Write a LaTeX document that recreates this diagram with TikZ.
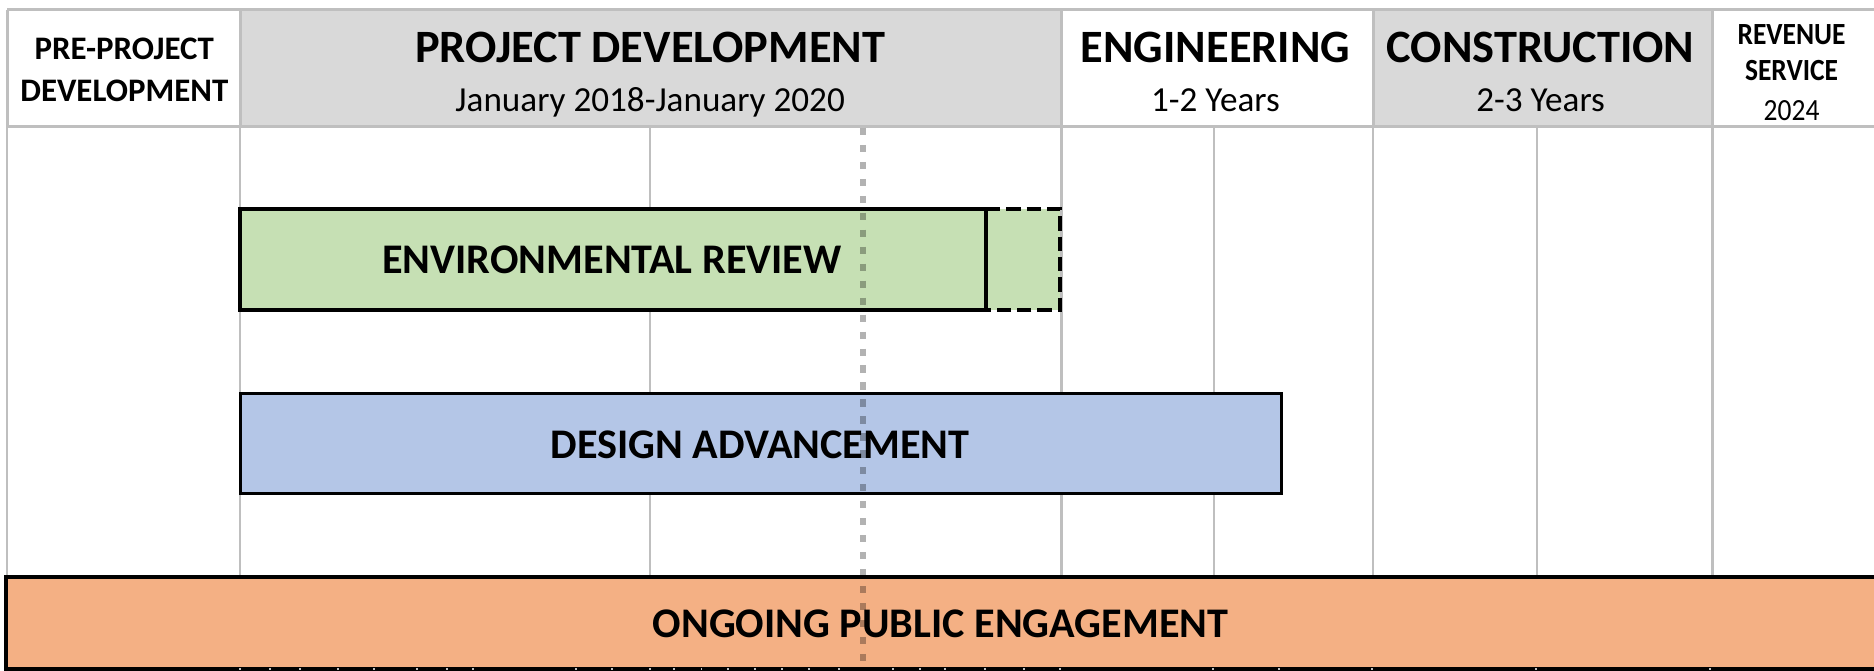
\documentclass[tikz,border=0pt]{standalone}
\usepackage{fontspec}
\setmainfont{Carlito}
\definecolor{hdrgray}{HTML}{D9D9D9}
\definecolor{gridgray}{HTML}{BFBFBF}
\definecolor{envgreen}{HTML}{C6E0B4}
\definecolor{desblue}{HTML}{B4C6E7}
\definecolor{puborange}{HTML}{F4B084}
\newcommand{\fsz}[1]{\fontsize{#1}{#1}\selectfont}
\begin{document}
\begin{tikzpicture}[x=1pt,y=-1pt,
  gridline/.style={draw=gridgray,line width=2pt},
  hdrline/.style={draw=gridgray,line width=2.5pt},
  bigtxt/.style={anchor=base,inner sep=0pt,font=\bfseries\fsz{38.8}},
  subtxt/.style={anchor=base,inner sep=0pt,font=\fsz{29.4}},
  smalltxt/.style={anchor=base,inner sep=0pt,font=\bfseries\fsz{27.5}},
  revtxt/.style={anchor=base,inner sep=0pt,yscale=1.12,font=\bfseries\fsz{23}},
  bartxt/.style={anchor=base,inner sep=0pt,font=\bfseries\fsz{35.3}},
  barbox/.style={draw=black,line width=3.3pt},
  todayline/.style={draw=black,draw opacity=0.3,line width=5pt,dash pattern=on 6pt off 8.2pt}
]
\useasboundingbox (0,0) rectangle (1568,561);
\fill[white] (0,0) rectangle (1568,561);
% header cells
\fill[hdrgray] (201,8) rectangle (888,106);
\fill[hdrgray] (1149,8) rectangle (1433,106);
% lower grid
\foreach \gx in {6,201,544,888,1016,1149,1286,1433}
  \draw[gridline] (\gx,106) -- (\gx,482);
% header borders
\draw[hdrline] (6,8) -- (1568,8);
\draw[hdrline] (6,106) -- (1568,106);
\foreach \gx in {6,201,888,1149,1433}
  \draw[hdrline] (\gx,8) -- (\gx,106);
% header texts
\node[smalltxt] (pre1) at (104,50) {PRE-PROJECT};
\node[smalltxt] (pre2) at (104,85) {DEVELOPMENT};
\node[bigtxt] (pd) at (544,52) {PROJECT DEVELOPMENT};
\node[subtxt] (pdd) at (544,93) {January 2018-January 2020};
\node[bigtxt] (eng) at (1017,52) {ENGINEERING};
\node[subtxt] (engd) at (1017,93) {1-2 Years};
\node[bigtxt] (con) at (1289,52) {CONSTRUCTION};
\node[subtxt] (cond) at (1289,93) {2-3 Years};
\node[revtxt] (rev1) at (1499,37) {REVENUE};
\node[revtxt] (rev2) at (1499,67) {SERVICE};
\node[revtxt,font=\fsz{23}] (rev3) at (1499,101) {2024};
% environmental review
\fill[envgreen] (201,175) rectangle (887,259);
\draw[barbox,dash pattern=on 12pt off 5pt] (825,175) -- (887,175) -- (887,259) -- (825,259);
\draw[barbox] (201,175) rectangle (825,259);
\node[bartxt] (env) at (512,229) {ENVIRONMENTAL REVIEW};
% design advancement
\draw[barbox,fill=desblue,line width=2.4pt] (201,329) rectangle (1072,413);
\node[bartxt] (des) at (636,384) {DESIGN ADVANCEMENT};
% public engagement
\draw[barbox,fill=puborange] (5,483) rectangle (1580,560);
\node[bartxt] (pub) at (787,533) {ONGOING PUBLIC ENGAGEMENT};
% bottom ticks
\foreach \tx in {201,226,251,283,313,349,374,396,482,512,544,564,587,609,632,654,677,702,747,770,791,824,857,887,1015,1070,1148,1285,1431}
  \draw[gridgray,line width=1.5pt] (\tx,559) -- (\tx,561);
% status line
\draw[todayline] (722,107) -- (722,561);
\end{tikzpicture}
\end{document}
